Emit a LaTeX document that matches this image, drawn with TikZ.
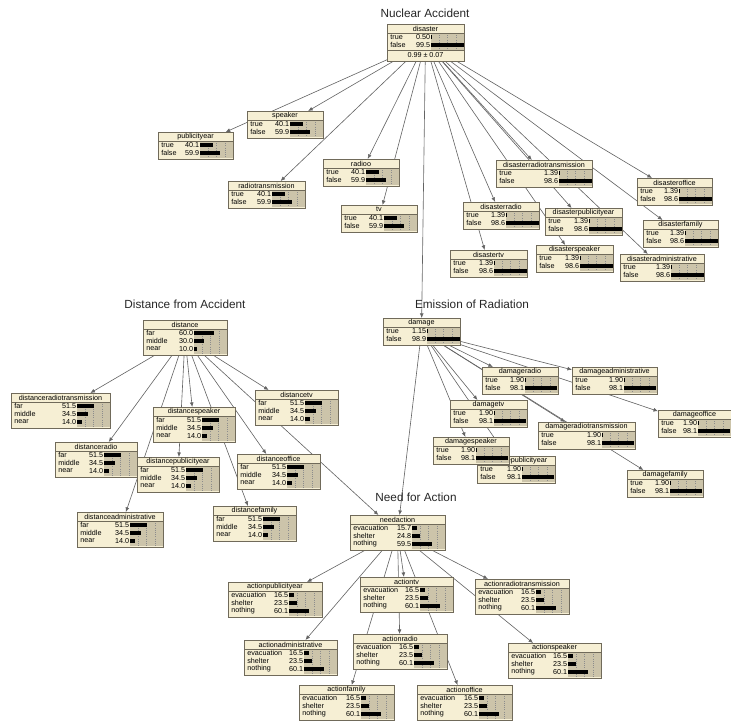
\documentclass[tikz,border=0pt]{standalone}
\usepackage{fontspec}
\setmainfont{Liberation Sans}
\usetikzlibrary{arrows.meta}
\pgfdeclarelayer{background}
\pgfsetlayers{background,main}

\definecolor{boxfill}{RGB}{246,239,212}
\definecolor{barfill}{RGB}{204,196,170}
\definecolor{boxline}{RGB}{112,106,90}
\definecolor{linkgray}{RGB}{100,100,100}

\tikzset{
  netbox/.style={draw=boxline, fill=boxfill, line width=0.5pt, inner sep=0pt, outer sep=0pt, anchor=north west},
  link/.style={draw=linkgray, line width=0.35pt, -{Latex[length=2.6pt,width=2.2pt]}},
  heading/.style={font=\fontsize{6.7}{8}\selectfont, text=black!85},
  nodetext/.style={font=\fontsize{4.1}{5}\selectfont, inner sep=0pt},
  gridline/.style={draw=black!45, line width=0.25pt, densely dotted},
}

% #1 extra height, #2 name, #3 x, #4 y, #5 width, #6 rows, #7 title, #8 states
\newcommand\netnode[8][0]{%
  \pgfmathsetmacro\nbh{11+#6*8+#1}
  \pgfmathsetmacro\nbs{#5-33}
  \pgfmathsetmacro\nre{9+#6*8+1}
  \node[netbox, minimum width=#5*0.02cm, minimum height=\nbh*0.02cm] (#2) at (#3,#4) {};
  \begin{scope}[shift={(#3,#4)}]
    \fill[barfill] (\nbs,9) rectangle (#5,\nre);
    \foreach \k in {0.25,0.5,0.75} \draw[gridline] ({\nbs+\k*33},9) -- ({\nbs+\k*33},\nre);
    \draw[boxline, line width=0.4pt] (0,9) -- (#5,9);
    \node[nodetext] at (#5/2,4.6) {#7};
    \foreach \lab/\val/\pct [count=\i] in {#8} {
      \node[nodetext, anchor=west] at (3,{9+(\i-0.5)*8}) {\lab};
      \node[nodetext, anchor=east] at (\nbs-0.5,{9+(\i-0.5)*8}) {\val};
      \fill[black] (\nbs,{9+(\i-0.5)*8-2}) rectangle ({\nbs+\pct*0.33},{9+(\i-0.5)*8+2});
    }
  \end{scope}
}

\begin{document}
\begin{tikzpicture}[x=0.02cm, y=-0.02cm]
  \useasboundingbox (0,0) rectangle (731,721);

  % headings
  \node[heading] (hnuclear) at (425,13) {Nuclear Accident};
  \node[heading] (hdistance) at (185,304) {Distance from Accident};
  \node[heading] (hemission) at (472,304) {Emission of Radiation};
  \node[heading] (hneed) at (416,497) {Need for Action};

  % nuclear accident
  \netnode[10]{disaster}{387}{24}{77}{2}{disaster}{true/0.50/0.5, false/99.5/99.5}
  \draw[boxline, line width=0.4pt] (387,50) -- (464,50);
  \node[nodetext] (dismean) at (425.5,55.5) {0.99 ± 0.07};
  \netnode{speaker}{247}{111}{76}{2}{speaker}{true/40.1/40.1, false/59.9/59.9}
  \netnode{publicityear}{158}{132}{75}{2}{publicityear}{true/40.1/40.1, false/59.9/59.9}
  \netnode{radiotransmission}{228}{181}{77}{2}{radiotransmission}{true/40.1/40.1, false/59.9/59.9}
  \netnode{radioo}{323}{159}{76}{2}{radioo}{true/40.1/40.1, false/59.9/59.9}
  \netnode{tv}{341}{205}{76}{2}{tv}{true/40.1/40.1, false/59.9/59.9}
  \netnode{disasterradiotransmission}{496}{160}{96}{2}{disasterradiotransmission}{true/1.39/1.39, false/98.6/98.6}
  \netnode{disasteroffice}{637}{178}{75}{2}{disasteroffice}{true/1.39/1.39, false/98.6/98.6}
  \netnode{disasterradio}{463}{202}{76}{2}{disasterradio}{true/1.39/1.39, false/98.6/98.6}
  \netnode{disasterpublicityear}{545}{208}{77}{2}{disasterpublicityear}{true/1.39/1.39, false/98.6/98.6}
  \netnode{disasterfamily}{643}{220}{75}{2}{disasterfamily}{true/1.39/1.39, false/98.6/98.6}
  \netnode{disastertv}{450}{250}{77}{2}{disastertv}{true/1.39/1.39, false/98.6/98.6}
  \netnode{disasterspeaker}{536}{245}{77}{2}{disasterspeaker}{true/1.39/1.39, false/98.6/98.6}
  \netnode{disasteradministrative}{620}{254}{84}{2}{disasteradministrative}{true/1.39/1.39, false/98.6/98.6}

  % distance from accident
  \netnode{distance}{143}{320}{84}{3}{distance}{far/60.0/60, middle/30.0/30, near/10.0/10}
  \netnode{distanceradiotransmission}{11}{393}{99}{3}{distanceradiotransmission}{far/51.5/51.5, middle/34.5/34.5, near/14.0/14}
  \netnode{distancespeaker}{153}{407}{82}{3}{distancespeaker}{far/51.5/51.5, middle/34.5/34.5, near/14.0/14}
  \netnode{distancetv}{255}{390}{83}{3}{distancetv}{far/51.5/51.5, middle/34.5/34.5, near/14.0/14}
  \netnode{distanceradio}{55}{442}{82}{3}{distanceradio}{far/51.5/51.5, middle/34.5/34.5, near/14.0/14}
  \netnode{distancepublicityear}{137}{457}{82}{3}{distancepublicityear}{far/51.5/51.5, middle/34.5/34.5, near/14.0/14}
  \netnode{distanceoffice}{237}{454}{83}{3}{distanceoffice}{far/51.5/51.5, middle/34.5/34.5, near/14.0/14}
  \netnode{distanceadministrative}{77}{512}{86}{3}{distanceadministrative}{far/51.5/51.5, middle/34.5/34.5, near/14.0/14}
  \netnode{distancefamily}{213}{506}{83}{3}{distancefamily}{far/51.5/51.5, middle/34.5/34.5, near/14.0/14}

  % emission of radiation
  \netnode{damage}{383}{318}{77}{2}{damage}{true/1.15/1.15, false/98.9/98.9}
  \netnode{damageradio}{482}{367}{76}{2}{damageradio}{true/1.90/1.9, false/98.1/98.1}
  \netnode{damageadministrative}{572}{367}{85}{2}{damageadministrative}{true/1.90/1.9, false/98.1/98.1}
  \netnode{damagetv}{450}{400}{77}{2}{damagetv}{true/1.90/1.9, false/98.1/98.1}
  \netnode{damageoffice}{658}{410}{73}{2}{damageoffice}{true/1.90/1.9, false/98.1/98.1}
  \netnode{damageradiotransmission}{538}{422}{97}{2}{damageradiotransmission}{true/1.90/1.9, false/98.1/98.1}
  \netnode{damagepublicityear}{477}{456}{78}{2}{damagepublicityear}{true/1.90/1.9, false/98.1/98.1}
  \netnode{damagespeaker}{433}{437}{76}{2}{damagespeaker}{true/1.90/1.9, false/98.1/98.1}
  \netnode{damagefamily}{627}{470}{76}{2}{damagefamily}{true/1.90/1.9, false/98.1/98.1}

  % need for action
  \netnode{needaction}{350}{515}{95}{3}{needaction}{evacuation/15.7/15.7, shelter/24.8/24.8, nothing/59.5/59.5}
  \netnode{actionpublicityear}{228}{582}{94}{3}{actionpublicityear}{evacuation/16.5/16.5, shelter/23.5/23.5, nothing/60.1/60.1}
  \netnode{actiontv}{360}{577}{93}{3}{actiontv}{evacuation/16.5/16.5, shelter/23.5/23.5, nothing/60.1/60.1}
  \netnode{actionradiotransmission}{475}{579}{94}{3}{actionradiotransmission}{evacuation/16.5/16.5, shelter/23.5/23.5, nothing/60.1/60.1}
  \netnode{actionadministrative}{244}{640}{93}{3}{actionadministrative}{evacuation/16.5/16.5, shelter/23.5/23.5, nothing/60.1/60.1}
  \netnode{actionradio}{353}{634}{94}{3}{actionradio}{evacuation/16.5/16.5, shelter/23.5/23.5, nothing/60.1/60.1}
  \netnode{actionspeaker}{508}{643}{93}{3}{actionspeaker}{evacuation/16.5/16.5, shelter/23.5/23.5, nothing/60.1/60.1}
  \netnode{actionfamily}{299}{685}{95}{3}{actionfamily}{evacuation/16.5/16.5, shelter/23.5/23.5, nothing/60.1/60.1}
  \netnode{actionoffice}{417}{685}{95}{3}{actionoffice}{evacuation/16.5/16.5, shelter/23.5/23.5, nothing/60.1/60.1}

  \begin{pgfonlayer}{background}
    \foreach \c in {speaker,publicityear,radiotransmission,radioo,tv,damage,
        disasterradiotransmission,disasteroffice,disasterradio,disasterpublicityear,
        disasterfamily,disastertv,disasterspeaker,disasteradministrative}
      \draw[link] (disaster) -- (\c);
    \foreach \c in {distanceradiotransmission,distancespeaker,distancetv,distanceradio,
        distancepublicityear,distanceoffice,distanceadministrative,distancefamily,needaction}
      \draw[link] (distance) -- (\c);
    \foreach \c in {damageradio,damageadministrative,damagetv,damageoffice,
        damageradiotransmission,damagespeaker,damagepublicityear,damagefamily,needaction}
      \draw[link] (damage) -- (\c);
    \foreach \c in {actionpublicityear,actiontv,actionradiotransmission,actionadministrative,
        actionradio,actionspeaker,actionfamily,actionoffice}
      \draw[link] (needaction) -- (\c);
  \end{pgfonlayer}
\end{tikzpicture}
\end{document}
